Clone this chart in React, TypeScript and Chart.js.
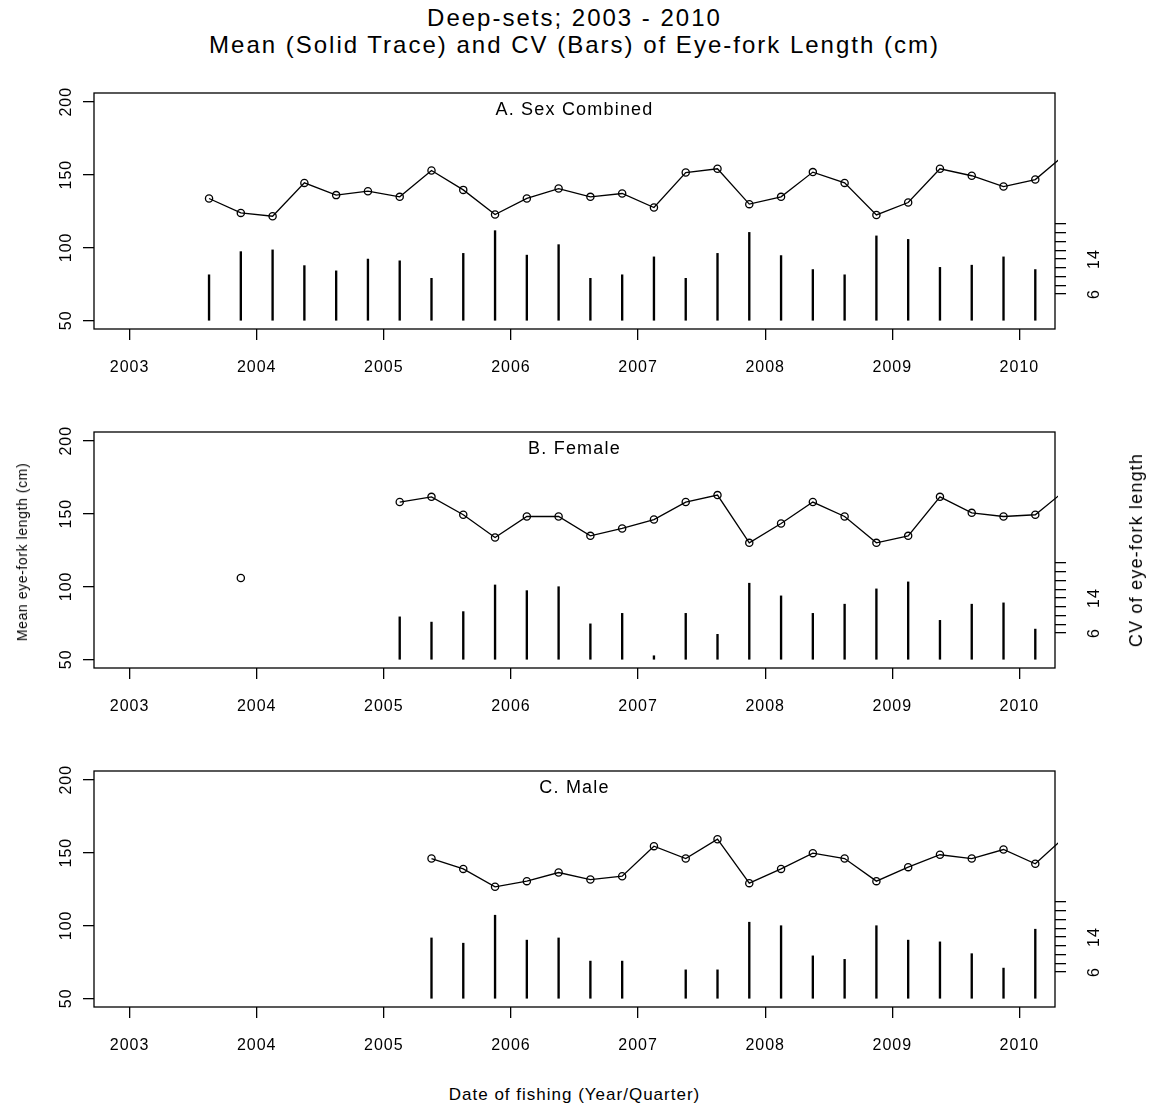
import React, { useEffect, useRef } from "react";
import { Chart, registerables } from "chart.js";

Chart.register(...registerables);

const FONT = "'Liberation Sans', Arial, Helvetica, sans-serif";

// Quarter mid-points (year + (quarter - 0.5) / 4)
const quarterTimes = [
  2003.625, 2003.875, 2004.125, 2004.375, 2004.625, 2004.875, 2005.125,
  2005.375, 2005.625, 2005.875, 2006.125, 2006.375, 2006.625, 2006.875,
  2007.125, 2007.375, 2007.625, 2007.875, 2008.125, 2008.375, 2008.625,
  2008.875, 2009.125, 2009.375, 2009.625, 2009.875, 2010.125, 2010.375,
];

const yearTicks = [2003, 2004, 2005, 2006, 2007, 2008, 2009, 2010];
const meanTicks = [50, 100, 150, 200];
const cvTicks = [6, 8, 10, 12, 14, 16, 18, 20, 22];
const cvLabelTicks = [6, 14];

// A. Sex combined
const meanCombined = [
  133.6, 123.7, 121.4, 144.3, 135.9, 138.6, 134.7, 152.8, 139.5, 122.6,
  133.6, 140.4, 134.7, 137.0, 127.4, 151.4, 154.0, 129.7, 134.7, 151.7,
  144.3, 122.3, 130.8, 154.0, 149.2, 141.8, 146.6, 165.0,
];
const cvCombined = [
  10.4, 15.7, 16.1, 12.5, 11.3, 14.0, 13.6, 9.6, 15.3, 20.5,
  14.9, 17.3, 9.6, 10.4, 14.5, 9.6, 15.3, 20.1, 14.8, 11.6,
  10.4, 19.3, 18.5, 12.1, 12.6, 14.5, 11.6, null,
];

// B. Female
const meanFemale = [
  null, 105.8, null, null, null, null, 157.9, 161.5, 149.2, 133.6,
  148.0, 148.0, 134.7, 139.8, 145.9, 157.9, 162.7, 129.9, 143.2, 157.9,
  148.0, 129.9, 134.7, 161.5, 150.5, 148.0, 149.2, 167.0,
];
const cvFemale = [
  null, null, null, null, null, null, 9.7, 8.5, 10.9, 17.0,
  15.7, 16.6, 8.1, 10.5, 0.8, 10.5, 5.7, 17.4, 14.5, 10.5,
  12.6, 16.1, 17.7, 8.9, 12.6, 12.9, 6.9, null,
];

// C. Male
const meanMale = [
  null, null, null, null, null, null, null, 145.9, 138.8, 126.5,
  130.4, 136.3, 131.5, 133.8, 154.4, 145.9, 159.2, 129.0, 138.8, 149.6,
  145.9, 130.4, 140.0, 148.5, 145.9, 152.1, 142.3, 162.2,
];
const cvMale = [
  null, null, null, null, null, null, null, 13.8, 12.6, 19.0,
  13.3, 13.8, 8.5, 8.5, null, 6.5, 6.5, 17.4, 16.6, 9.7,
  8.9, 16.6, 13.3, 12.9, 10.2, 6.9, 15.8, null,
];

const panelLabels = ["A. Sex Combined", "B. Female", "C. Male"];
const panelMeans = [meanCombined, meanFemale, meanMale];
const panelCvs = [cvCombined, cvFemale, cvMale];

const CANVAS_W = 1152;
const CANVAS_H = 310;

function tickGrid() {
  return {
    display: true,
    offset: false,
    drawOnChartArea: false,
    drawTicks: true,
    tickLength: 11,
    color: "#000",
    lineWidth: 1.3,
  };
}

function decorPlugin(label: string) {
  return {
    id: "decor",
    afterDraw(chart: any) {
      const { ctx, chartArea: a, scales } = chart;
      ctx.save();
      ctx.strokeStyle = "#000";
      ctx.lineWidth = 1.3;
      ctx.strokeRect(a.left, a.top, a.right - a.left, a.bottom - a.top);

      ctx.fillStyle = "#000";
      ctx.font = `16px ${FONT}`;
      (ctx as any).letterSpacing = "1px";
      ctx.textAlign = "center";
      ctx.textBaseline = "alphabetic";
      for (const yr of yearTicks) {
        ctx.fillText(String(yr), scales.x.getPixelForValue(yr), a.bottom + 43);
      }
      for (const v of meanTicks) {
        ctx.save();
        ctx.translate(a.left - 23, scales.y.getPixelForValue(v));
        ctx.rotate(-Math.PI / 2);
        ctx.fillText(String(v), 0, 0);
        ctx.restore();
      }
      for (const v of cvLabelTicks) {
        ctx.save();
        ctx.translate(a.right + 44, scales.y2.getPixelForValue(v));
        ctx.rotate(-Math.PI / 2);
        ctx.fillText(String(v), 0, 0);
        ctx.restore();
      }
      ctx.font = `18px ${FONT}`;
      (ctx as any).letterSpacing = "1.2px";
      ctx.fillText(label, (a.left + a.right) / 2, a.top + 22);
      ctx.restore();
    },
  };
}

function Panel({ index, top }: { index: number; top: number }) {
  const ref = useRef<HTMLCanvasElement | null>(null);
  useEffect(() => {
    if (!ref.current) return;
    const mean = panelMeans[index];
    const cv = panelCvs[index];
    const chart = new Chart(ref.current, {
      type: "line",
      data: {
        datasets: [
          {
            type: "line",
            data: quarterTimes.map((t, i) => ({ x: t, y: mean[i] })),
            xAxisID: "x",
            yAxisID: "y",
            borderColor: "#000",
            borderWidth: 1.3,
            pointRadius: 3.6,
            pointBorderWidth: 1.3,
            pointBorderColor: "#000",
            pointBackgroundColor: "rgba(0,0,0,0)",
            tension: 0,
            spanGaps: false,
            clip: 3,
          } as any,
          {
            type: "bar",
            data: quarterTimes.map((t, i) => ({ x: t, y: cv[i] })),
            xAxisID: "x",
            yAxisID: "y2",
            backgroundColor: "#000",
            borderWidth: 0,
            barThickness: 1.7,
          } as any,
        ],
      },
      options: {
        responsive: false,
        animation: false,
        devicePixelRatio: 1,
        layout: { padding: { top: 20, left: 0, right: 0, bottom: 0 } },
        plugins: {
          legend: { display: false },
          tooltip: { enabled: false },
          title: { display: false },
        },
        scales: {
          x: {
            type: "linear",
            position: "bottom",
            offset: false,
            min: 2002.72,
            max: 2010.28,
            afterBuildTicks: (s: any) => {
              s.ticks = yearTicks.map((v) => ({ value: v }));
            },
            afterFit: (s: any) => {
              s.height = 54;
            },
            ticks: { display: false },
            grid: tickGrid(),
            border: { display: false },
          },
          y: {
            type: "linear",
            position: "left",
            min: 44,
            max: 206,
            afterBuildTicks: (s: any) => {
              s.ticks = meanTicks.map((v) => ({ value: v }));
            },
            afterFit: (s: any) => {
              s.width = 94;
            },
            ticks: { display: false },
            grid: tickGrid(),
            border: { display: false },
          },
          y2: {
            type: "linear",
            position: "right",
            min: -2,
            max: 52,
            afterBuildTicks: (s: any) => {
              s.ticks = cvTicks.map((v) => ({ value: v }));
            },
            afterFit: (s: any) => {
              s.width = 97;
            },
            ticks: { display: false },
            grid: tickGrid(),
            border: { display: false },
          },
        } as any,
      },
      plugins: [decorPlugin(panelLabels[index]) as any],
    });
    return () => chart.destroy();
  }, [index]);
  return (
    <canvas
      ref={ref}
      width={CANVAS_W}
      height={CANVAS_H}
      style={{ position: "absolute", left: 0, top, width: CANVAS_W, height: CANVAS_H }}
    />
  );
}

function Text({
  x,
  y,
  size,
  spacing,
  rotate = 0,
  children,
}: {
  x: number;
  y: number;
  size: number;
  spacing: number;
  rotate?: number;
  children: React.ReactNode;
}) {
  return (
    <div
      style={{
        position: "absolute",
        left: x,
        top: y,
        transform: `translate(-50%, -50%) rotate(${rotate}deg)`,
        fontSize: size,
        lineHeight: 1,
        letterSpacing: spacing,
        whiteSpace: "nowrap",
        fontFamily: FONT,
        color: "#000",
      }}
    >
      {children}
    </div>
  );
}

export default function App() {
  return (
    <div
      style={{
        position: "absolute",
        left: 0,
        top: 0,
        width: 1152,
        height: 1107,
        background: "#fff",
        overflow: "hidden",
      }}
    >
      {[0, 1, 2].map((k) => (
        <Panel key={k} index={k} top={73 + 339 * k} />
      ))}
      <Text x={574.5} y={18} size={24} spacing={2}>
        Deep-sets; 2003 - 2010
      </Text>
      <Text x={574.5} y={45} size={24} spacing={2}>
        Mean (Solid Trace) and CV (Bars) of Eye-fork Length (cm)
      </Text>
      <Text x={22} y={552} size={14} spacing={0.6} rotate={-90}>
        Mean eye-fork length (cm)
      </Text>
      <Text x={1136} y={550} size={18} spacing={1.2} rotate={-90}>
        CV of eye-fork length
      </Text>
      <Text x={574.5} y={1094} size={17} spacing={1}>
        Date of fishing (Year/Quarter)
      </Text>
    </div>
  );
}
